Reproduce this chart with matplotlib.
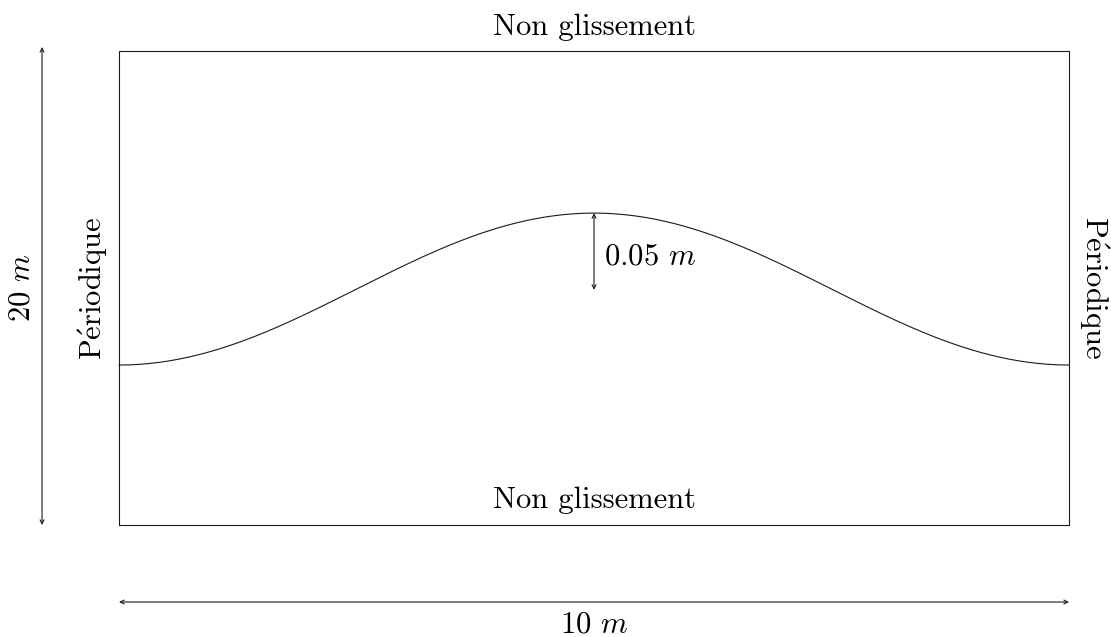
import numpy as np
import matplotlib
matplotlib.use('Agg')
from matplotlib import pyplot as plt

plt.rcParams['mathtext.fontset'] = 'cm'
plt.rcParams['font.family'] = 'cmr10'
plt.rcParams['axes.unicode_minus'] = False

# domain (drawn schematically, bump exaggerated)
width = 10.0
height = 20.0
base = 6.75
bump = 6.41
arrow_len = 3.24
labels_bc = ['Non glissement', 'Non glissement']
label_side = r'$\mathrm{P\acute{e}riodique}$'
label_w = r'10 $m$'
label_h = r'20 $m$'
label_amp = r'0.05 $m$'

x = np.linspace(0, width, 400)
y = base + bump * (1 - np.cos(2 * np.pi * x / width)) / 2

fig = plt.figure(figsize=(11.11, 6.37), dpi=100)
ax = fig.add_axes([0, 0, 1, 1])
ax.set_xlim(-1.2526, 10.442)
ax.set_ylim(-4.726, 22.152)
ax.axis('off')

lc = '#1a1a1a'
ax.plot([0, width, width, 0, 0], [0, 0, height, height, 0], color=lc, lw=0.8)
ax.plot(x, y, color=lc, lw=0.8)

arr = dict(arrowstyle='<->', color=lc, lw=0.8, mutation_scale=7, shrinkA=0, shrinkB=0)
ax.annotate('', xy=(width / 2, base + bump), xytext=(width / 2, base + bump - arrow_len), arrowprops=arr)
ax.annotate('', xy=(-0.81, 0), xytext=(-0.81, height + 0.17), arrowprops=arr)
ax.annotate('', xy=(0, -3.25), xytext=(width, -3.25), arrowprops=arr)

fs = 22
ax.text(width / 2, 21.0, labels_bc[0], ha='center', va='center', fontsize=fs)
ax.text(width / 2, 1.05, labels_bc[1], ha='center', va='center', fontsize=fs)
ax.text(-0.274, 10.0, label_side, ha='center', va='center', rotation=90, fontsize=fs)
ax.text(10.26, 10.0, label_side, ha='center', va='center', rotation=-90, fontsize=fs)
ax.text(-1.02, 10.0, label_h, ha='center', va='center', rotation=90, fontsize=fs)
ax.text(width / 2, -4.22, label_w, ha='center', va='center', fontsize=fs)
ax.text(5.11, 11.31, label_amp, ha='left', va='center', fontsize=fs)

fig.savefig('out.png', dpi=100)
